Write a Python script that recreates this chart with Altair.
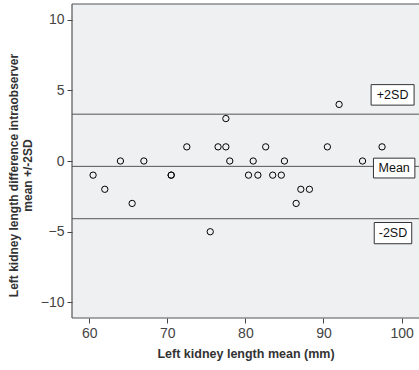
import altair as alt
import pandas as pd

# Bland-Altman style plot: intraobserver difference vs mean of left kidney length
mean_len = [60.5, 62.0, 64.0, 65.5, 67.0, 70.5, 70.5, 72.5, 75.5, 76.5, 77.5, 77.5,
            78.0, 80.4, 81.0, 81.6, 82.6, 83.5, 84.6, 85.0, 86.5, 87.1, 88.2,
            90.5, 92.0, 95.0, 97.5]
diff_len = [-1, -2, 0, -3, 0, -1, -1, 1, -5, 1, 3, 1,
            0, -1, 0, -1, 1, -1, -1, 0, -3, -2, -2,
            1, 4, 0, 1]

# Reference lines: mean difference and +/- 2 SD limits
ref_names = ["+2SD", "Mean", "-2SD"]
ref_values = [3.31, -0.38, -4.08]
# Label boxes placed beside each line (data units)
box_lo = [3.95, -1.2, -5.85]
box_hi = [5.40, 0.2, -4.35]
box_x1 = [96.1, 96.4, 96.5]
box_x2 = [101.6, 101.7, 101.3]

X_DOM = [57.8, 102.23]
Y_DOM = [-11.1, 11.1]

pts = pd.DataFrame({"m": mean_len, "d": diff_len})
refs = pd.DataFrame({"name": ref_names, "v": ref_values})
boxes = pd.DataFrame({
    "name": ref_names, "lo": box_lo, "hi": box_hi, "x1": box_x1, "x2": box_x2,
})
boxes["xc"] = (boxes["x1"] + boxes["x2"]) / 2
boxes["yc"] = (boxes["lo"] + boxes["hi"]) / 2
# Frame edges (left, top, bottom) of the plotting region
frame_h = pd.DataFrame({"y": [Y_DOM[0], Y_DOM[1]]})
frame_v = pd.DataFrame({"x": [X_DOM[0]]})

FONT = "Liberation Sans"
xscale = alt.Scale(domain=X_DOM, nice=False, zero=False)
yscale = alt.Scale(domain=Y_DOM, nice=False, zero=False)

x_axis = alt.Axis(
    values=[60, 70, 80, 90, 100], grid=False, domain=False,
    tickColor="#444444", tickSize=5, labelFont=FONT, labelFontSize=14,
    labelColor="#444444", labelPadding=3,
    title="Left kidney length mean (mm)", titleFont=FONT, titleFontSize=12.5,
    titleFontWeight="bold", titleColor="#333333", titlePadding=7,
)
y_axis = alt.Axis(
    values=[-10, -5, 0, 5, 10], grid=False, domain=False,
    tickColor="#444444", tickSize=5, labelFont=FONT, labelFontSize=14,
    labelColor="#444444", labelPadding=3,
    title=["Left kidney length difference intraobserver", "mean +/-2SD"],
    titleFont=FONT, titleFontSize=12, titleFontWeight="bold",
    titleColor="#333333", titleX=-64, titleY=171, titleAngle=-90,
    titleBaseline="top", titleAlign="center", titleLineHeight=14,
)

frame_top_bottom = alt.Chart(frame_h).mark_rule(color="#555555", strokeWidth=1.2).encode(
    y=alt.Y("y:Q", scale=yscale),
)
frame_left = alt.Chart(frame_v).mark_rule(color="#555555", strokeWidth=1.2).encode(
    x=alt.X("x:Q", scale=xscale),
)

points = alt.Chart(pts).mark_point(
    shape="circle", filled=False, color="black", size=40, strokeWidth=1, opacity=1
).encode(
    x=alt.X("m:Q", scale=xscale, axis=x_axis),
    y=alt.Y("d:Q", scale=yscale, axis=y_axis),
)

lines = alt.Chart(refs).mark_rule(color="#555555", strokeWidth=1).encode(
    y=alt.Y("v:Q", scale=yscale),
)

rects = alt.Chart(boxes).mark_rect(
    fill="white", stroke="#333333", strokeWidth=1
).encode(
    x=alt.X("x1:Q", scale=xscale), x2="x2:Q",
    y=alt.Y("lo:Q", scale=yscale), y2="hi:Q",
)

texts = alt.Chart(boxes).mark_text(
    font=FONT, fontSize=12.5, color="#111111", baseline="middle", align="center"
).encode(
    x=alt.X("xc:Q", scale=xscale),
    y=alt.Y("yc:Q", scale=yscale),
    text="name:N",
)

chart = alt.layer(frame_top_bottom, frame_left, lines, points, rects, texts).properties(
    width=347, height=314,
    autosize=alt.AutoSizeParams(type="none"),
    padding={"left": 72, "top": 4, "right": 0, "bottom": 52},
    background="white",
).configure_view(
    fill="#EFF0F2", stroke=None,
)

chart.save("out.html", embed_options={"renderer": "svg", "actions": False})
